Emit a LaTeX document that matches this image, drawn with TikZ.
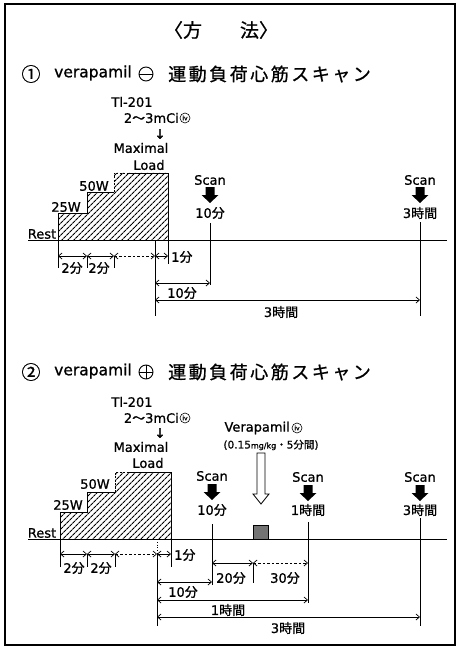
\documentclass[tikz,border=0pt]{standalone}
\usepackage{fontspec}
\setmainfont{DejaVu Sans}[FakeBold=1.0]
\newfontfamily\jp{Noto Sans CJK JP}[FakeBold=0.9]
\newfontfamily\jpw{Noto Sans CJK JP}[FakeBold=0.9,LetterSpace=14]
\usetikzlibrary{arrows.meta,patterns.meta}
\newcommand\fen{{\jp 分}}
\newcommand\jkn{{\jp 時間}}
\begin{document}
\begin{tikzpicture}[x=1pt,y=-1pt,
  lbl/.style={inner sep=0pt, font=\fontsize{13}{13}\selectfont},
  base/.style={line width=0.9pt},
  vline/.style={line width=0.8pt},
  dim/.style={line width=0.7pt,{Straight Barb[length=3.5pt,width=6pt]}-{Straight Barb[length=3.5pt,width=6pt]}},
  hatch/.style={pattern={Lines[angle=45,distance=4pt,line width=1.2pt]}},
  civ/.style={circle,draw,line width=0.6pt,inner sep=0pt,minimum size=10pt,font=\fontsize{6}{6}\selectfont},
  scanarr/.pic={\fill (-4.5,0)--(4.5,0)--(4.5,8)--(8.5,8)--(0,16)--(-8.5,8)--(-4.5,8)--cycle;}]
\useasboundingbox (0,0) rectangle (459,647);
\draw[line width=1.2pt] (5,4) rectangle (455,645);

% title
\node[inner sep=0pt,font=\fontsize{19}{19}\selectfont\jp] (title) at (221,30) {〈方　　法〉};

% ===== Section 1 =====
\node[inner sep=0pt,font=\fontsize{19}{19}\selectfont\jp] (n1) at (31,74) {①};
\node[inner sep=0pt,anchor=west,font=\fontsize{15.5}{15.5}\selectfont] (v1) at (54,73) {verapamil};
\node[circle,draw,line width=0.9pt,minimum size=14pt,inner sep=0pt] (m1) at (146,74) {};
\draw[line width=0.9pt] (m1.west) -- (m1.east);
\node[inner sep=0pt,anchor=west,font=\fontsize{18}{18}\selectfont\jpw] (h1) at (168,74) {運動負荷心筋スキャン};

\node[lbl] (tl1) at (132,102) {Tl-201};
\node[lbl,anchor=east] (mci1) at (179,118) {2{\jp 〜}3mCi};
\node[civ] (iv1) at (185,118) {iv};
\node[lbl] (ar1) at (160,134) {↓};
\node[lbl] (max1) at (141,148) {Maximal};
\node[lbl] (load1) at (149,165) {Load};

\fill[hatch] (58,240)--(58,213)--(87,213)--(87,192)--(114,192)--(114,173)--(168,173)--(168,240)--cycle;
\draw[base] (58,240)--(58,213)--(87,213)--(87,192)--(114,192);
\draw[base,dashed,dash pattern=on 2pt off 1.5pt] (114,192)--(114,173)--(127,173);
\draw[base] (127,173)--(168,173)--(168,240);

\node[lbl] (w25a) at (66,207) {25W};
\node[lbl] (w50a) at (94,186) {50W};
\node[lbl] (rest1) at (42,234) {Rest};

\coordinate (b1L) at (28,240); \coordinate (b1R) at (447,240);
\draw[base] (b1L) -- (b1R);

\coordinate (d1a) at (58,256); \coordinate (d1b) at (87,256); \coordinate (d1c) at (114,256);
\coordinate (d1d) at (155,256); \coordinate (d1e) at (168,256);
\draw[vline] (58,240) -- (58,268);
\draw[vline] (87,256) -- (87,268);
\draw[vline] (114,256) -- (114,268);
\draw[vline] (168,240) -- (168,264);
\draw[vline] (155,240) -- (155,316);
\draw[dim] (d1a) -- (d1b);
\draw[dim] (d1b) -- (d1c);
\draw[dim,dashed,dash pattern=on 2.5pt off 2pt] (d1c) -- (d1d);
\draw[dim] (d1d) -- (d1e);
\node[lbl,anchor=west] (f1a) at (171,257) {1\fen};
\node[lbl] (f2a) at (72,268) {2\fen};
\node[lbl] (f2b) at (99,268) {2\fen};

% scans
\node[lbl] (sc1a) at (210,180) {Scan};
\pic at (210,187) {scanarr};
\node[lbl] (sc1at) at (210,213) {10\fen};
\draw[vline] (210,223) -- (210,285);
\node[lbl] (sc1b) at (420,180) {Scan};
\pic at (420,187) {scanarr};
\node[lbl] (sc1bt) at (420,213) {3\jkn};
\draw[vline] (420,222) -- (420,316);

\coordinate (e1a) at (155,283); \coordinate (e1b) at (210,283);
\draw[dim] (e1a) -- (e1b);
\node[lbl] (t10a) at (182,293) {10\fen};
\coordinate (g1a) at (155,300); \coordinate (g1b) at (420,300);
\draw[dim] (g1a) -- (g1b);
\node[lbl] (t3a) at (281,312) {3\jkn};

% ===== Section 2 =====
\node[inner sep=0pt,font=\fontsize{19}{19}\selectfont\jp] (n2) at (31,372) {②};
\node[inner sep=0pt,anchor=west,font=\fontsize{15.5}{15.5}\selectfont] (v2) at (54,371) {verapamil};
\node[circle,draw,line width=0.9pt,minimum size=14pt,inner sep=0pt] (p2) at (146,372) {};
\draw[line width=0.9pt] (p2.west) -- (p2.east);
\draw[line width=0.9pt] (p2.north) -- (p2.south);
\node[inner sep=0pt,anchor=west,font=\fontsize{18}{18}\selectfont\jpw] (h2) at (168,372) {運動負荷心筋スキャン};

\node[lbl] (tl2) at (132,402) {Tl-201};
\node[lbl,anchor=east] (mci2) at (179,418) {2{\jp 〜}3mCi};
\node[civ] (iv2) at (185,418) {iv};
\node[lbl] (ar2) at (160,433) {↓};
\node[lbl] (max2) at (141,447) {Maximal};
\node[lbl] (load2) at (148,463) {Load};

\fill[hatch] (60,539)--(60,512)--(87,512)--(87,492)--(115,492)--(115,472)--(171,472)--(171,539)--cycle;
\draw[base] (60,539)--(60,512)--(87,512)--(87,492)--(115,492);
\draw[base,dashed,dash pattern=on 2pt off 1.5pt] (115,492)--(115,472)--(128,472);
\draw[base] (128,472)--(171,472)--(171,539);

\node[lbl] (w25b) at (68,505) {25W};
\node[lbl] (w50b) at (95,484) {50W};
\node[lbl] (rest2) at (42,533) {Rest};

\coordinate (b2L) at (28,539); \coordinate (b2R) at (447,539);
\draw[base] (b2L) -- (b2R);

\coordinate (d2a) at (60,554); \coordinate (d2b) at (87,554); \coordinate (d2c) at (115,554);
\coordinate (d2d) at (157,554); \coordinate (d2e) at (171,554);
\draw[vline] (60,539) -- (60,567);
\draw[vline] (87,554) -- (87,567);
\draw[vline] (115,554) -- (115,567);
\draw[vline] (171,539) -- (171,567);
\draw[vline,dotted] (157,539) -- (157,554);
\draw[vline] (157,554) -- (157,626);
\draw[dim] (d2a) -- (d2b);
\draw[dim] (d2b) -- (d2c);
\draw[dim,dashed,dash pattern=on 2.5pt off 2pt] (d2c) -- (d2d);
\draw[dim] (d2d) -- (d2e);
\node[lbl,anchor=west] (f1b) at (174,555) {1\fen};
\node[lbl] (f2c) at (74,568) {2\fen};
\node[lbl] (f2d) at (101,568) {2\fen};

% verapamil injection
\node[lbl,anchor=east] (vera) at (290,428) {Verapamil};
\node[civ] (iv3) at (297,428) {iv};
\node[inner sep=0pt,font=\fontsize{10.5}{10.5}\selectfont] (dose) at (271,445) {(0.15{\fontsize{8}{8}\selectfont mg/kg}{\jp ・}5{\jp 分間})};
\draw[line width=0.8pt,fill=white] (257,453)--(265,453)--(265,494)--(269,494)--(261,504)--(253,494)--(257,494)--cycle;
\node[draw,line width=0.6pt,fill=black!55,minimum width=15pt,minimum height=14pt,inner sep=0pt] (box) at (260.5,532) {};

% scans
\node[lbl] (sc2a) at (212,476) {Scan};
\pic at (212,484) {scanarr};
\node[lbl] (sc2at) at (212,510) {10\fen};
\draw[vline] (212,524) -- (212,585);
\node[lbl] (sc2b) at (308,477) {Scan};
\pic at (308,485) {scanarr};
\node[lbl] (sc2bt) at (308,510) {1\jkn};
\draw[vline] (308,522) -- (308,603);
\node[lbl] (sc2c) at (420,477) {Scan};
\pic at (420,485) {scanarr};
\node[lbl] (sc2ct) at (420,510) {3\jkn};
\draw[vline] (420,518) -- (420,626);

\coordinate (k2a) at (212,563); \coordinate (k2b) at (253,563); \coordinate (k2c) at (308,563);
\draw[dim] (k2a) -- (k2b);
\draw[dim,dashed,dash pattern=on 2.5pt off 2pt] (k2b) -- (k2c);
\draw[vline] (253,563) -- (253,583);
\node[lbl] (t20) at (231,578) {20\fen};
\node[lbl] (t30) at (285,578) {30\fen};

\coordinate (e2a) at (157,582); \coordinate (e2b) at (212,582);
\draw[dim] (e2a) -- (e2b);
\node[lbl] (t10b) at (183,592) {10\fen};
\coordinate (h2a) at (157,600); \coordinate (h2b) at (308,600);
\draw[dim] (h2a) -- (h2b);
\node[lbl] (t1h) at (228,610) {1\jkn};
\coordinate (g2a) at (157,617); \coordinate (g2b) at (420,617);
\draw[dim] (g2a) -- (g2b);
\node[lbl] (t3b) at (288,628) {3\jkn};
\end{tikzpicture}
\end{document}
